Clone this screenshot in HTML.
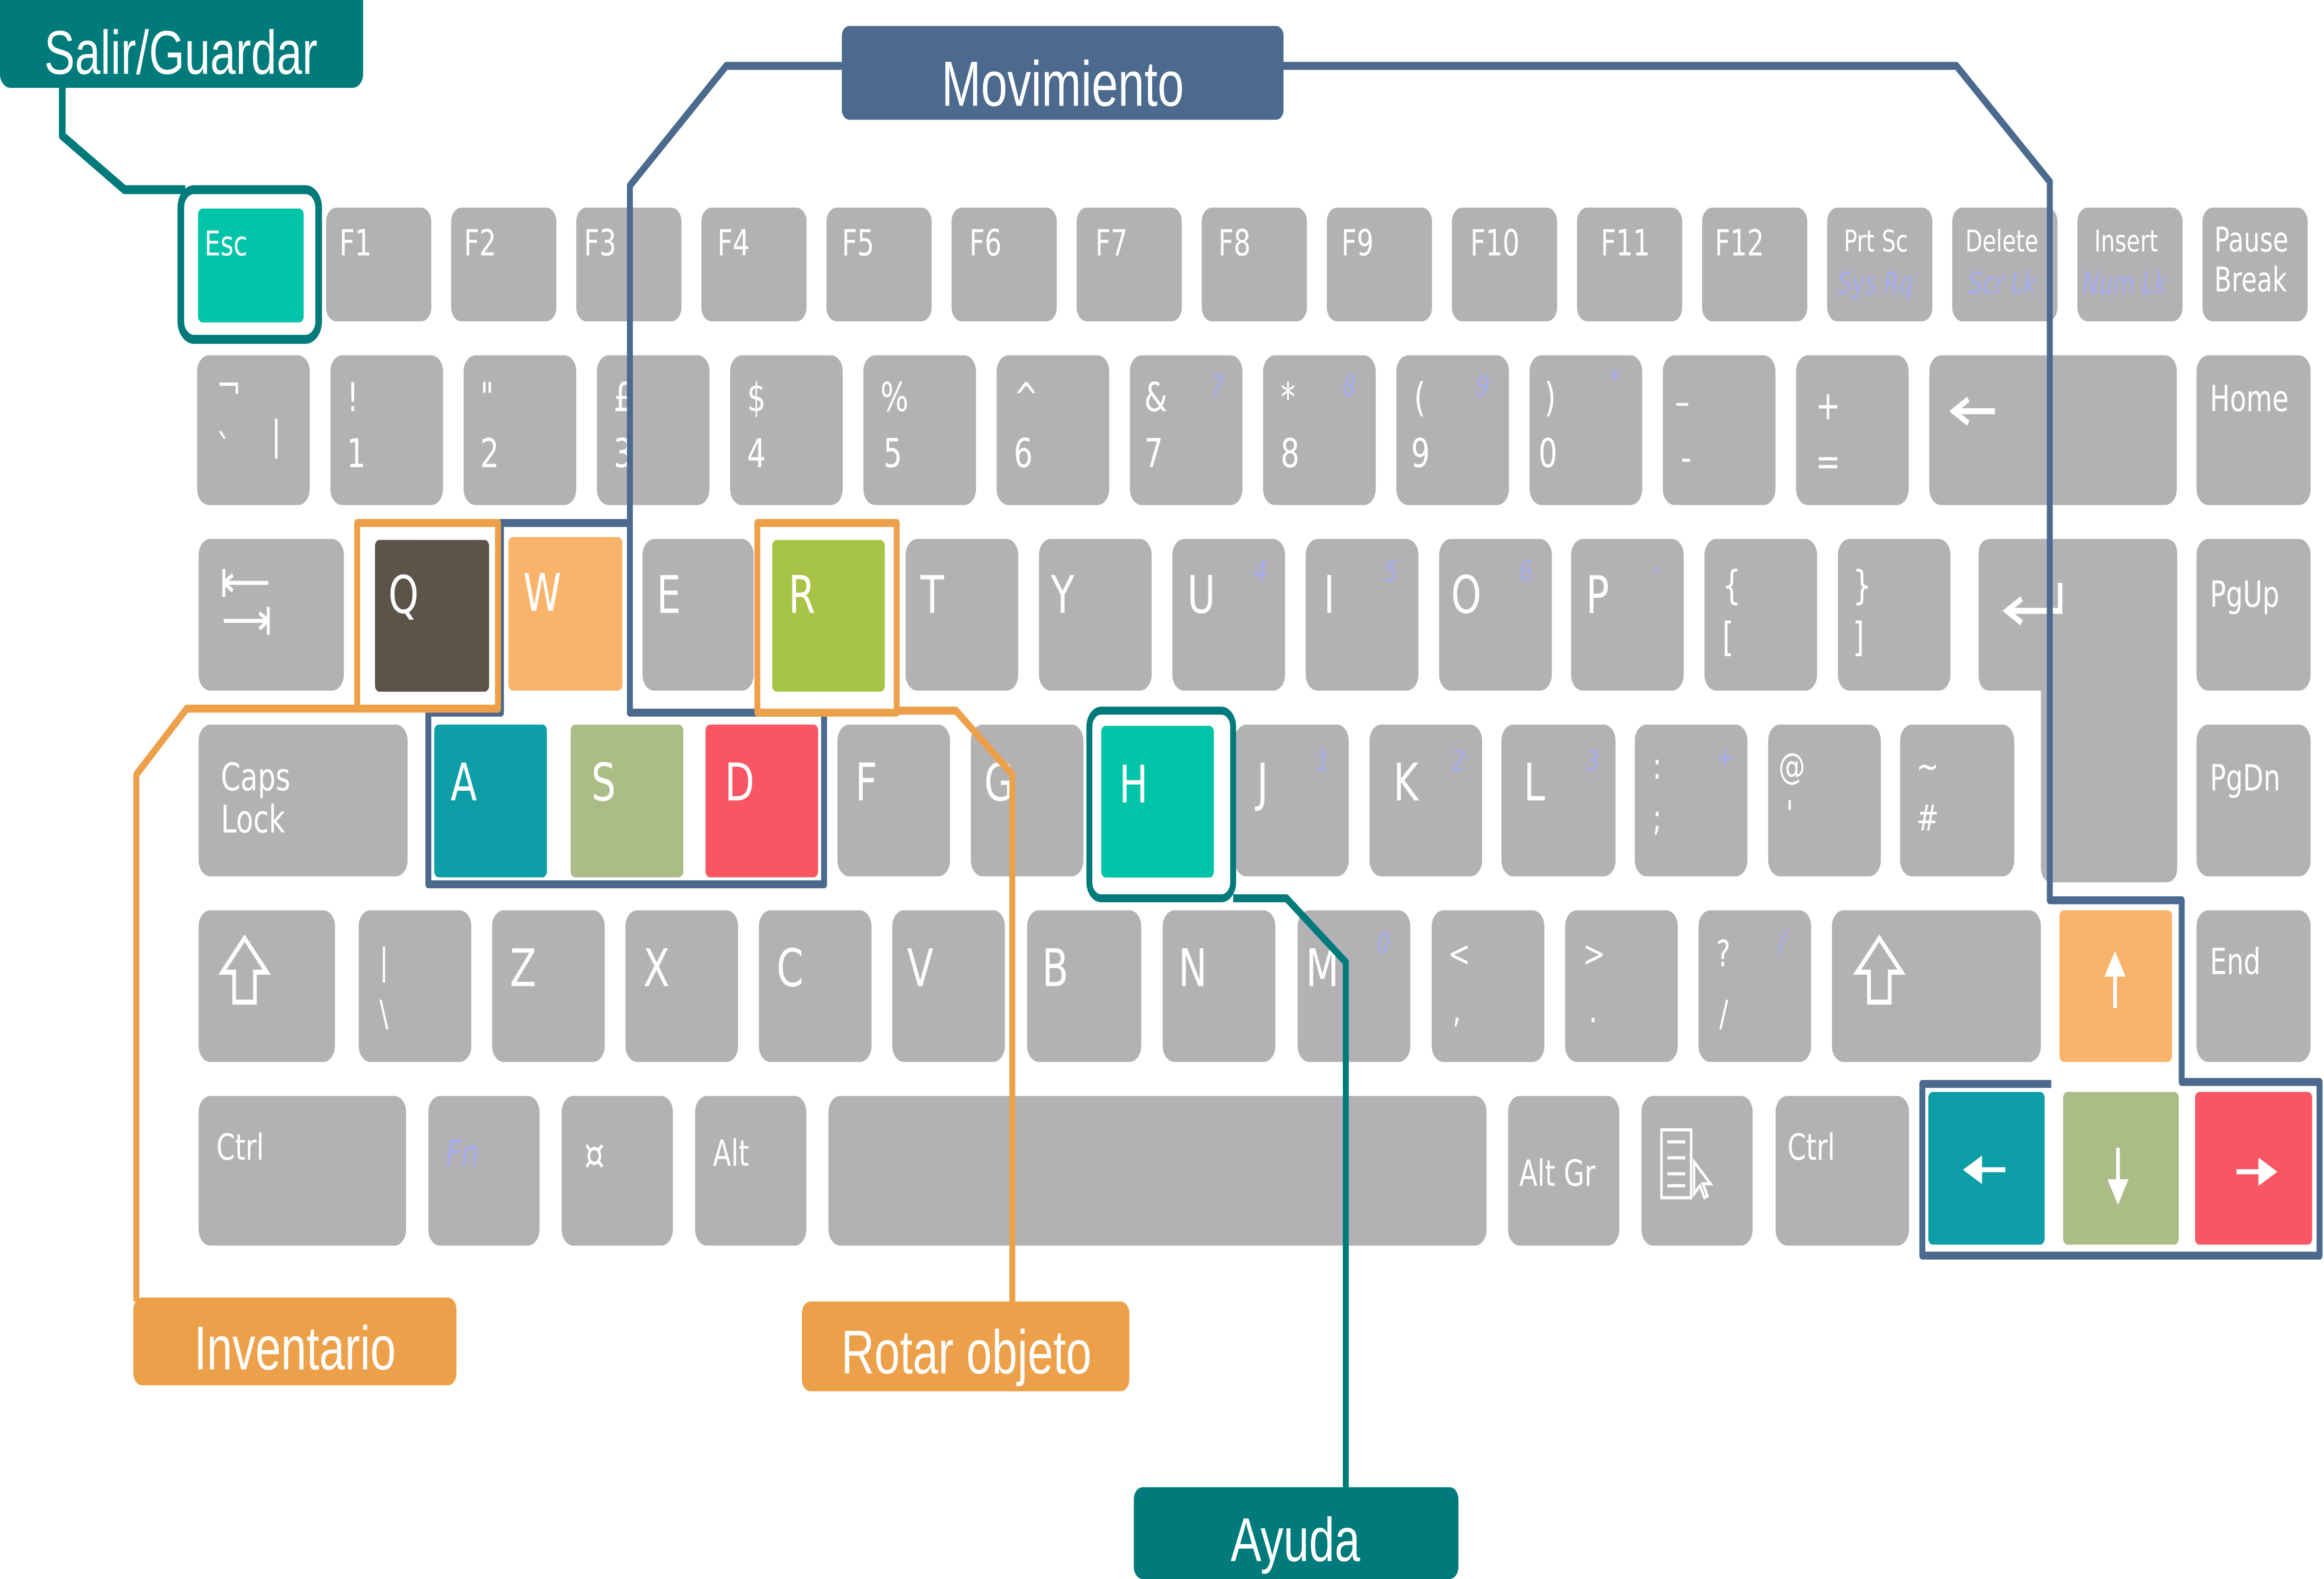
<!DOCTYPE html>
<html><head><meta charset="utf-8">
<style>
html,body{margin:0;padding:0;background:#fff;width:100%;height:100%;overflow:hidden;}
svg{display:block;width:100vw;height:100vh;}
.k{fill:#b3b1b4;}
.t{fill:#fff;font-family:"DejaVu Sans","Liberation Sans",sans-serif;}
.s{fill:#a4acf0;font-family:"DejaVu Sans",sans-serif;font-style:italic;}
.lab{fill:#fff;font-family:"Liberation Sans",sans-serif;text-anchor:middle;}
</style></head>
<body>
<svg viewBox="0 0 1568 791" preserveAspectRatio="none" xmlns="http://www.w3.org/2000/svg">
<rect width="1568" height="791" fill="#fff"/>

<!-- Row 1 -->
<g font-size="18">
<rect class="k" x="220" y="104" width="71" height="57" rx="7"/><text class="t" x="229" y="128">F1</text>
<rect class="k" x="304.4" y="104" width="71" height="57" rx="7"/><text class="t" x="313" y="128">F2</text>
<rect class="k" x="388.8" y="104" width="71" height="57" rx="7"/><text class="t" x="394" y="128">F3</text>
<rect class="k" x="473.2" y="104" width="71" height="57" rx="7"/><text class="t" x="484" y="128">F4</text>
<rect class="k" x="557.6" y="104" width="71" height="57" rx="7"/><text class="t" x="568" y="128">F5</text>
<rect class="k" x="642" y="104" width="71" height="57" rx="7"/><text class="t" x="654" y="128">F6</text>
<rect class="k" x="726.4" y="104" width="71" height="57" rx="7"/><text class="t" x="739" y="128">F7</text>
<rect class="k" x="810.8" y="104" width="71" height="57" rx="7"/><text class="t" x="822" y="128">F8</text>
<rect class="k" x="895.2" y="104" width="71" height="57" rx="7"/><text class="t" x="905" y="128">F9</text>
<rect class="k" x="979.6" y="104" width="71" height="57" rx="7"/><text class="t" x="992" y="128">F10</text>
<rect class="k" x="1064" y="104" width="71" height="57" rx="7"/><text class="t" x="1080" y="128">F11</text>
<rect class="k" x="1148.4" y="104" width="71" height="57" rx="7"/><text class="t" x="1157" y="128">F12</text>
<rect class="k" x="1232.8" y="104" width="71" height="57" rx="7"/>
<rect class="k" x="1317.2" y="104" width="71" height="57" rx="7"/>
<rect class="k" x="1401.6" y="104" width="71" height="57" rx="7"/>
<rect class="k" x="1486" y="104" width="71" height="57" rx="7"/>
</g>
<g font-size="15">
<text class="t" x="1244" y="126">Prt Sc</text><text class="s" x="1240" y="147">Sys Rq</text>
<text class="t" x="1326" y="126">Delete</text><text class="s" x="1328" y="147">Scr Lk</text>
<text class="t" x="1413" y="126">Insert</text><text class="s" x="1405" y="147">Num Lk</text>
<text class="t" x="1494" y="126" font-size="17">Pause</text><text class="t" x="1494" y="146" font-size="17">Break</text>
</g>

<!-- Row 2 -->
<g font-size="20">
<rect class="k" x="133" y="178" width="76" height="75" rx="8"/><text class="t" x="146" y="200">¬</text><text class="t" x="146" y="232">`</text><text class="t" x="183" y="225">|</text>
<rect class="k" x="222.9" y="178" width="76" height="75" rx="8"/><text class="t" x="234" y="206">!</text><text class="t" x="234" y="234">1</text>
<rect class="k" x="312.8" y="178" width="76" height="75" rx="8"/><text class="t" x="324" y="206">"</text><text class="t" x="324" y="234">2</text>
<rect class="k" x="402.7" y="178" width="76" height="75" rx="8"/><text class="t" x="414" y="206">£</text><text class="t" x="414" y="234">3</text>
<rect class="k" x="492.6" y="178" width="76" height="75" rx="8"/><text class="t" x="504" y="206">$</text><text class="t" x="504" y="234">4</text>
<rect class="k" x="582.5" y="178" width="76" height="75" rx="8"/><text class="t" x="594" y="206">%</text><text class="t" x="596" y="234">5</text>
<rect class="k" x="672.4" y="178" width="76" height="75" rx="8"/><text class="t" x="684" y="206">^</text><text class="t" x="684" y="234">6</text>
<rect class="k" x="762.3" y="178" width="76" height="75" rx="8"/><text class="t" x="772" y="206">&amp;</text><text class="t" x="772" y="234">7</text><text class="s" x="817" y="198" font-size="14">7</text>
<rect class="k" x="852.2" y="178" width="76" height="75" rx="8"/><text class="t" x="864" y="206">*</text><text class="t" x="864" y="234">8</text><text class="s" x="906" y="198" font-size="14">8</text>
<rect class="k" x="942.1" y="178" width="76" height="75" rx="8"/><text class="t" x="954" y="206">(</text><text class="t" x="952" y="234">9</text><text class="s" x="996" y="198" font-size="14">9</text>
<rect class="k" x="1032" y="178" width="76" height="75" rx="8"/><text class="t" x="1042" y="206">)</text><text class="t" x="1038" y="234">0</text><text class="s" x="1086" y="195" font-size="14">*</text>
<rect class="k" x="1121.9" y="178" width="76" height="75" rx="8"/><text class="t" x="1130" y="208">–</text><text class="t" x="1134" y="236">-</text>
<rect class="k" x="1211.8" y="178" width="76" height="75" rx="8"/><text class="t" x="1225" y="210">+</text><text class="t" x="1225" y="238">=</text>
<rect class="k" x="1301.7" y="178" width="167" height="75" rx="8"/>
<path d="M1346 206 H1320 M1328 200 L1318 206 L1328 212" stroke="#fff" stroke-width="3" fill="none"/>
<rect class="k" x="1482" y="178" width="77" height="75" rx="8"/><text class="t" x="1491" y="206" font-size="18">Home</text>
</g>

<!-- Row 3 -->
<g font-size="26">
<rect class="k" x="134" y="270" width="98" height="76" rx="8"/>
<path d="M151 285 V299 M151 292 H181 M151 292 l6 -4 M151 292 l6 4 M181 304 V318 M151 311 H181 M181 311 l-6 -4 M181 311 l-6 4" stroke="#fff" stroke-width="2" fill="none"/>
<rect class="k" x="433.5" y="270" width="75" height="76" rx="8"/><text class="t" x="443" y="307">E</text>
<rect class="k" x="611" y="270" width="76" height="76" rx="8"/><text class="t" x="621" y="307">T</text>
<rect class="k" x="701" y="270" width="76" height="76" rx="8"/><text class="t" x="709" y="307">Y</text>
<rect class="k" x="791" y="270" width="76" height="76" rx="8"/><text class="t" x="801" y="307">U</text><text class="s" x="846" y="291" font-size="14">4</text>
<rect class="k" x="881" y="270" width="76" height="76" rx="8"/><text class="t" x="893" y="307">I</text><text class="s" x="934" y="291" font-size="14">5</text>
<rect class="k" x="971" y="270" width="76" height="76" rx="8"/><text class="t" x="979" y="307">O</text><text class="s" x="1025" y="291" font-size="14">6</text>
<rect class="k" x="1060" y="270" width="76" height="76" rx="8"/><text class="t" x="1070" y="307">P</text><text class="s" x="1116" y="289" font-size="14">-</text>
<rect class="k" x="1150" y="270" width="76" height="76" rx="8"/><text class="t" x="1162" y="300" font-size="20">{</text><text class="t" x="1162" y="326" font-size="20">[</text>
<rect class="k" x="1240" y="270" width="76" height="76" rx="8"/><text class="t" x="1250" y="300" font-size="20">}</text><text class="t" x="1250" y="326" font-size="20">]</text>
<path class="k" d="M1343 270 H1461 Q1469 270 1469 278 V434 Q1469 442 1461 442 H1385 Q1377 442 1377 434 V346 H1343 Q1335 346 1335 338 V278 Q1335 270 1343 270 Z"/>
<path d="M1390 292 V306 H1356 M1364 300 L1354 306 L1364 312" stroke="#fff" stroke-width="3" fill="none"/>
<rect class="k" x="1482" y="270" width="77" height="76" rx="8"/><text class="t" x="1491" y="304" font-size="18">PgUp</text>
</g>

<!-- Row 4 -->
<g font-size="26">
<rect class="k" x="134" y="363" width="141" height="76" rx="8"/><text class="t" x="149" y="396" font-size="19">Caps</text><text class="t" x="149" y="417" font-size="19">Lock</text>
<rect class="k" x="565" y="363" width="76" height="76" rx="8"/><text class="t" x="577" y="401">F</text>
<rect class="k" x="655" y="363" width="76" height="76" rx="8"/><text class="t" x="664" y="401">G</text>
<rect class="k" x="833" y="363" width="77" height="76" rx="8"/><text class="t" x="848" y="401">J</text><text class="s" x="888" y="386" font-size="14">1</text>
<rect class="k" x="924" y="363" width="76" height="76" rx="8"/><text class="t" x="940" y="401">K</text><text class="s" x="980" y="386" font-size="14">2</text>
<rect class="k" x="1013" y="363" width="77" height="76" rx="8"/><text class="t" x="1028" y="401">L</text><text class="s" x="1070" y="386" font-size="14">3</text>
<rect class="k" x="1103" y="363" width="76" height="76" rx="8"/><text class="t" x="1115" y="390" font-size="18">:</text><text class="t" x="1115" y="416" font-size="18">;</text><text class="s" x="1158" y="384" font-size="14">+</text>
<rect class="k" x="1193" y="363" width="76" height="76" rx="8"/><text class="t" x="1200" y="390" font-size="18">@</text><text class="t" x="1205" y="414" font-size="18">'</text>
<rect class="k" x="1282" y="363" width="77" height="76" rx="8"/><text class="t" x="1293" y="390" font-size="18">~</text><text class="t" x="1293" y="416" font-size="18">#</text>
<rect class="k" x="1482" y="363" width="77" height="76" rx="8"/><text class="t" x="1491" y="396" font-size="18">PgDn</text>
</g>

<!-- Row 5 -->
<g font-size="26">
<rect class="k" x="134" y="456" width="92" height="76" rx="8"/>
<path d="M165 470 L150 487 H158 V502 H172 V487 H180 Z" stroke="#fff" stroke-width="2.5" fill="none"/>
<rect class="k" x="242" y="456" width="76" height="76" rx="8"/><text class="t" x="256" y="488" font-size="18">|</text><text class="t" x="256" y="514" font-size="18">\</text>
<rect class="k" x="332" y="456" width="76" height="76" rx="8"/><text class="t" x="344" y="494">Z</text>
<rect class="k" x="422" y="456" width="76" height="76" rx="8"/><text class="t" x="434" y="494">X</text>
<rect class="k" x="512" y="456" width="76" height="76" rx="8"/><text class="t" x="524" y="494">C</text>
<rect class="k" x="602" y="456" width="76" height="76" rx="8"/><text class="t" x="612" y="494">V</text>
<rect class="k" x="693" y="456" width="77" height="76" rx="8"/><text class="t" x="703" y="494">B</text>
<rect class="k" x="784.5" y="456" width="76" height="76" rx="8"/><text class="t" x="795" y="494">N</text>
<rect class="k" x="875.5" y="456" width="76" height="76" rx="8"/><text class="t" x="881" y="494">M</text><text class="s" x="929" y="477" font-size="14">0</text>
<rect class="k" x="966" y="456" width="76" height="76" rx="8"/><text class="t" x="977" y="484" font-size="18">&lt;</text><text class="t" x="980" y="512" font-size="18">,</text>
<rect class="k" x="1056" y="456" width="76" height="76" rx="8"/><text class="t" x="1068" y="484" font-size="18">&gt;</text><text class="t" x="1072" y="512" font-size="18">.</text>
<rect class="k" x="1146" y="456" width="76" height="76" rx="8"/><text class="t" x="1158" y="484" font-size="18">?</text><text class="t" x="1160" y="514" font-size="18">/</text><text class="s" x="1200" y="476" font-size="14">/</text>
<rect class="k" x="1236" y="456" width="141" height="76" rx="8"/>
<path d="M1268 470 L1253 487 H1261 V502 H1275 V487 H1283 Z" stroke="#fff" stroke-width="2.5" fill="none"/>
<rect class="k" x="1482" y="456" width="77" height="76" rx="8"/><text class="t" x="1491" y="488" font-size="18">End</text>
</g>

<!-- Row 6 -->
<g font-size="18">
<rect class="k" x="134" y="549" width="140" height="75" rx="8"/><text class="t" x="146" y="581">Ctrl</text>
<rect class="k" x="289" y="549" width="75" height="75" rx="8"/><text class="s" x="301" y="584">Fn</text>
<rect class="k" x="379" y="549" width="75" height="75" rx="8"/><text class="t" x="394" y="586" font-size="22">¤</text>
<rect class="k" x="469" y="549" width="75" height="75" rx="8"/><text class="t" x="481" y="584">Alt</text>
<rect class="k" x="559" y="549" width="444" height="75" rx="8"/>
<rect class="k" x="1017.5" y="549" width="75" height="75" rx="8"/><text class="t" x="1025" y="594">Alt Gr</text>
<rect class="k" x="1107.5" y="549" width="75" height="75" rx="8"/>
<path d="M1121 566 H1141 V600 H1121 Z M1125 572 H1137 M1125 580 H1137 M1125 588 H1137 M1125 594 H1137 M1143 582 L1143 598 L1147 594 L1150 600 L1152 599 L1149 593 L1154 593 Z" stroke="#fff" stroke-width="1.6" fill="none"/>
<rect class="k" x="1198" y="549" width="90" height="75" rx="8"/><text class="t" x="1206" y="581">Ctrl</text>
</g>

<!-- Colored keys -->
<rect x="133.6" y="104.5" width="71.3" height="57" rx="3" fill="#00c4a8"/><text class="t" x="138" y="128" font-size="17">Esc</text>
<rect x="253" y="270.5" width="77" height="76" rx="3" fill="#5c5449"/><text class="t" x="262" y="307" font-size="26">Q</text>
<rect x="343" y="269" width="77" height="77" rx="3" fill="#f9b46c"/><text class="t" x="353" y="306" font-size="26">W</text>
<rect x="521" y="270.5" width="76" height="76" rx="3" fill="#a8c446"/><text class="t" x="532" y="307" font-size="26">R</text>
<rect x="293" y="363" width="76" height="76.5" rx="3" fill="#0e9ea8"/><text class="t" x="304" y="401" font-size="26">A</text>
<rect x="385" y="363" width="76" height="76.5" rx="3" fill="#abbc86"/><text class="t" x="399" y="401" font-size="26">S</text>
<rect x="476" y="363" width="76" height="76.5" rx="3" fill="#f85662"/><text class="t" x="489" y="401" font-size="26">D</text>
<rect x="743" y="363.6" width="76" height="76" rx="3" fill="#00c4a8"/><text class="t" x="755" y="402" font-size="26">H</text>
<rect x="1389.5" y="456" width="76" height="76" rx="3" fill="#f9b46c"/>
<path d="M1427 505 V482 M1422 488 L1427 479 L1432 488 Z" stroke="#fff" stroke-width="2.5" fill="#fff"/>
<rect x="1301" y="547" width="78.5" height="76.5" rx="3" fill="#0e9ea8"/>
<path d="M1330 586 H1353 M1336 581 L1327 586 L1336 591 Z" stroke="#fff" stroke-width="2.5" fill="#fff"/>
<rect x="1392" y="547" width="78" height="76.5" rx="3" fill="#abbc86"/>
<path d="M1429 575 V598 M1424 592 L1429 601 L1434 592 Z" stroke="#fff" stroke-width="2.5" fill="#fff"/>
<rect x="1481" y="547" width="79" height="76.5" rx="3" fill="#f85662"/>
<path d="M1509 587 H1531 M1525 582 L1534 587 L1525 592 Z" stroke="#fff" stroke-width="2.5" fill="#fff"/>

<!-- Frames and connectors -->
<g fill="none" stroke-linejoin="round">
<path d="M42 44 V68 L84 95 H125" stroke="#007a7a" stroke-width="4.5"/>
<rect x="122" y="95" width="93" height="75" rx="9" stroke="#007a7a" stroke-width="4.5"/>
<path d="M568 33 H490 L425 93 V357 H556 V443 H289 V357 H338 V262 H425" stroke="#4b6a8d" stroke-width="4"/>
<path d="M866 33 H1320 L1383 91 V451 H1472 V542 H1565 V629 H1297 V543 H1384" stroke="#4b6a8d" stroke-width="4"/>
<path d="M241 262 H336 V355 H241 Z" stroke="#eda04a" stroke-width="4"/>
<path d="M241 355 H126 L92 388 V652" stroke="#eda04a" stroke-width="4"/>
<path d="M511 262 H605 V357 H511 Z" stroke="#eda04a" stroke-width="4"/>
<path d="M605 356 H645 L683 388 V654" stroke="#eda04a" stroke-width="4"/>
<rect x="735" y="356" width="97" height="94" rx="8" stroke="#007a7a" stroke-width="4"/>
<path d="M832 450 H868 L908 482 V746" stroke="#007a7a" stroke-width="4"/>
</g>

<!-- Label boxes -->
<rect x="0" y="-8" width="245" height="52" rx="7" fill="#007a7a"/>
<text class="lab" x="122" y="37" font-size="31">Salir/Guardar</text>
<rect x="568" y="13" width="298" height="47" rx="5" fill="#4b6a8d"/>
<text class="lab" x="717" y="53" font-size="32">Movimiento</text>
<rect x="90" y="650" width="218" height="44" rx="6" fill="#eda04a"/>
<text class="lab" x="199" y="686" font-size="31">Inventario</text>
<rect x="541" y="652" width="221" height="45" rx="6" fill="#eda04a"/>
<text class="lab" x="652" y="688" font-size="31">Rotar objeto</text>
<rect x="765" y="745" width="219" height="46" rx="6" fill="#007a7a"/>
<text class="lab" x="874" y="782" font-size="31">Ayuda</text>
</svg>
</body></html>
